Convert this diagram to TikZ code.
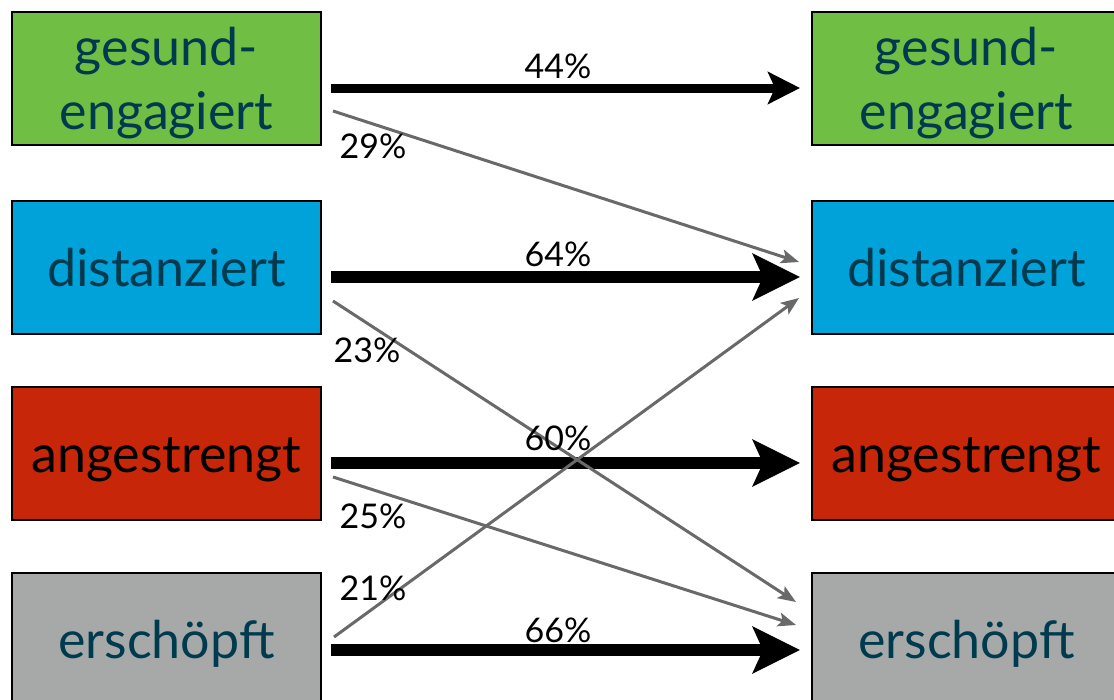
\documentclass[tikz,border=0pt]{standalone}
\usepackage{fontspec}
\setmainfont{Lato}
\usetikzlibrary{arrows.meta}
\definecolor{boxgreen}{RGB}{112,190,68}
\definecolor{boxblue}{RGB}{0,163,217}
\definecolor{boxred}{RGB}{200,38,8}
\definecolor{boxgray}{RGB}{166,169,168}
\definecolor{textteal}{RGB}{0,58,78}
\definecolor{flowgray}{RGB}{105,105,105}
\tikzset{
  statebox/.style={draw=black, line width=2pt, minimum width=309pt, minimum height=133pt,
    inner sep=0pt, align=center, text=textteal, text depth=0pt, text height=38pt,
    font=\fontsize{52}{64}\selectfont},
  twoline/.style={text height=102pt},
  mainflow/.style={line width=12pt, -{Stealth[length=47pt,width=46pt,inset=10pt]}},
  smallflow/.style={line width=9pt, -{Stealth[length=32pt,width=32pt,inset=7pt]}},
  crossflow/.style={flowgray, line width=3pt, -{Stealth[length=18pt,width=14pt,inset=4pt]}},
  pct/.style={font=\fontsize{34}{38}\selectfont, inner sep=0pt}
}
\begin{document}
\begin{tikzpicture}[x=1pt,y=-1pt]
\useasboundingbox (0,0) rectangle (1114,699);
\clip (0,0) rectangle (1114,699);
% left column
\node[statebox, twoline, fill=boxgreen] (l1) at (166.5,78.5) {gesund-\\engagiert};
\node[statebox, fill=boxblue]  (l2) at (166.5,267.5) {distanziert};
\node[statebox, fill=boxred, text=black] (l3) at (166.5,453) {angestrengt};
\node[statebox, fill=boxgray]  (l4) at (166.5,639.5) {erschöpft};
% right column
\node[statebox, twoline, fill=boxgreen] (r1) at (966.5,78.5) {gesund-\\engagiert};
\node[statebox, fill=boxblue]  (r2) at (966.5,267.5) {distanziert};
\node[statebox, fill=boxred, text=black] (r3) at (966.5,453) {angestrengt};
\node[statebox, fill=boxgray]  (r4) at (966.5,639.5) {erschöpft};
% staying in the same state
\draw[smallflow] ([shift={(9,9.5)}]l1.east) -- ([shift={(-11,9.5)}]r1.west);
\draw[mainflow]  ([shift={(9,9.5)}]l2.east) -- ([shift={(-11,9.5)}]r2.west);
\draw[mainflow]  ([shift={(9,10)}]l3.east) -- ([shift={(-11,10)}]r3.west);
\draw[mainflow]  ([shift={(9,10.5)}]l4.east) -- ([shift={(-11,10.5)}]r4.west);
% changing state
\draw[crossflow] ([shift={(11,32.5)}]l1.east) -- ([shift={(-12,-5.5)}]r2.west);
\draw[crossflow] ([shift={(11,33.5)}]l2.east) -- ([shift={(-15,-37.5)}]r4.west);
\draw[crossflow] ([shift={(11,24)}]l3.east) -- ([shift={(-15,-14.5)}]r4.west);
\draw[crossflow] ([shift={(12,-2.5)}]l4.east) -- ([shift={(-12,30.5)}]r2.west);
% shares
\node[pct] (p11) at (558,66) {44\%};
\node[pct] (p22) at (558,254) {64\%};
\node[pct] (p33) at (558,438) {60\%};
\node[pct] (p44) at (558,630) {66\%};
\node[pct] (p12) at (373,146) {29\%};
\node[pct] (p24) at (367,350) {23\%};
\node[pct] (p34) at (373,516) {25\%};
\node[pct] (p42) at (373,588) {21\%};
\end{tikzpicture}
\end{document}
